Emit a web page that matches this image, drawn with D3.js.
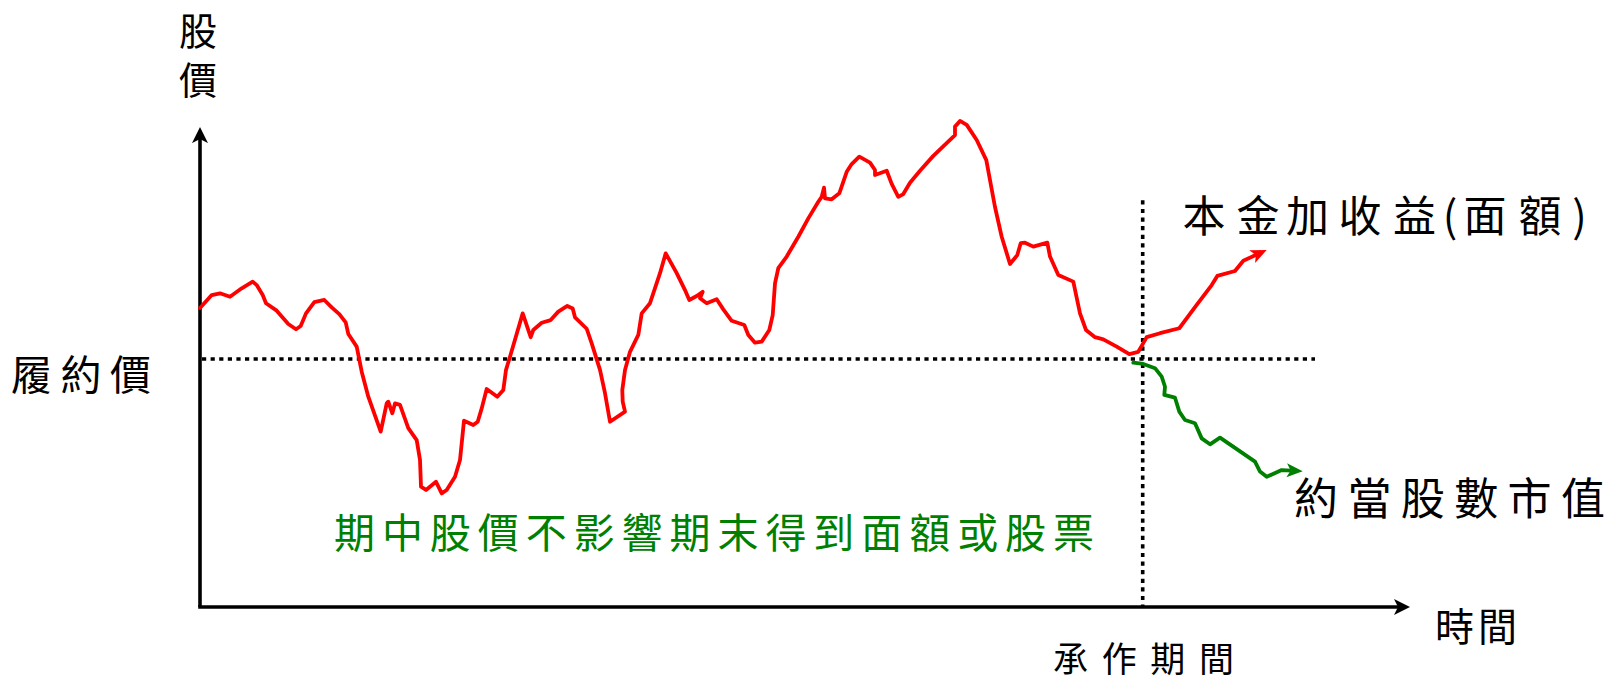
<!DOCTYPE html>
<html>
<head>
<meta charset="utf-8">
<script src="https://cdn.jsdelivr.net/npm/d3@7"></script>
<style>
  html, body { margin: 0; padding: 0; background: #fff; }
  svg { display: block; }
  text { font-family: "Noto Sans CJK TC", "Noto Sans CJK SC", sans-serif; }
</style>
</head>
<body>
<svg id="chart" width="1610" height="682"></svg>
<script>
// ---------------- data ----------------
// time (arbitrary units) and stock price (strike = 100)
const redTime = [0, 1.17, 2.0, 3.0, 4.17, 5.27, 5.67, 6.27, 6.6, 7.67, 8.83, 9.6, 10.07, 10.6, 11.43, 12.43, 13.17, 13.93, 14.57, 14.83,
  15.67, 16.17, 16.83, 18.07, 18.67, 18.83, 19.23, 19.5, 20.0, 20.83, 21.67, 22.0, 22.1, 22.6, 23.6, 24.17, 24.67, 25.5, 26.0, 26.4,
  27.33, 27.77, 28.17, 28.67, 29.73, 30.33, 30.6, 31.0, 32.27, 33.07, 33.33, 34.17, 35.07, 35.83, 36.73, 37.27, 37.5, 38.67, 39.17, 40.0,
  40.5, 41.0, 42.5, 42.27, 42.23, 42.5, 43.0, 43.83, 44.17, 45.0, 46.0, 46.57, 47.67, 48.5, 48.93, 49.67, 50.27, 50.0, 50.67, 51.67,
  52.33, 53.17, 54.43, 54.83, 55.5, 56.17, 56.93, 57.27, 57.5, 57.83, 58.67, 59.83, 60.83, 61.83, 62.17, 62.4, 62.5, 63.17, 63.93, 64.67,
  65.17, 65.93, 67.0, 67.5, 67.5, 68.67, 69.17, 69.83, 70.33, 71.0, 72.0, 73.33, 75.5, 75.5, 76.0, 76.67, 77.67, 78.63, 79.5, 80.17,
  81.0, 81.73, 82.07, 82.5, 83.33, 84.73, 85.0, 85.83, 87.33, 88.0, 88.6, 89.5, 90.33, 91.67, 92.93, 93.83, 94.27, 94.67, 96.0, 97.93,
  99.67, 101.17, 101.73, 103.5, 104.33, 105.67];
const redPrice = [120.6, 125.8, 126.5, 125.1, 128.5, 131.2, 129.8, 125.8, 122.5, 119.5, 114.1, 112.0, 113.3, 118.4, 122.9, 123.8, 120.8, 118.1, 114.8, 110.1,
  105.0, 94.9, 84.8, 70.7, 82.1, 82.8, 78.1, 82.1, 81.5, 72.1, 67.3, 59.3, 48.5, 47.2, 50.5, 45.8, 47.2, 52.5, 59.3, 75.1,
  73.4, 74.7, 80.1, 87.9, 84.8, 87.5, 95.6, 100.9, 118.4, 108.8, 111.7, 114.6, 115.7, 119.1, 121.4, 120.4, 116.8, 112.2, 106.3, 95.6,
  86.2, 74.7, 78.8, 82.8, 87.5, 95.6, 102.9, 109.7, 118.4, 122.5, 134.6, 142.6, 134.6, 127.8, 123.8, 125.4, 127.1, 124.5, 122.5, 124.1,
  120.0, 115.4, 113.7, 109.7, 106.6, 107.0, 111.7, 117.7, 130.5, 136.6, 141.3, 149.3, 156.7, 163.4, 165.4, 169.1, 164.8, 164.4, 166.8, 175.5,
  178.6, 181.6, 179.2, 176.2, 174.2, 175.9, 170.6, 165.4, 166.5, 171.1, 175.9, 181.9, 190.3, 193.7, 196.0, 194.4, 188.3, 180.2, 161.3, 149.3,
  138.3, 141.9, 146.7, 146.9, 145.3, 146.9, 141.3, 133.9, 131.2, 118.4, 111.7, 108.8, 107.9, 105.0, 102.0, 102.9, 106.0, 108.8, 110.4, 112.4,
  121.8, 129.8, 133.5, 135.5, 139.6, 142.1];
const greenTime = [93.33, 94.33, 95.5, 96.17, 96.5, 96.43, 97.5, 97.93, 98.5, 99.5, 100.17, 101.0, 102.0, 105.5, 106.0, 106.67, 108.17, 109.17];
const greenPrice = [98.5, 98.0, 96.3, 92.9, 88.8, 85.5, 84.4, 78.8, 75.4, 74.1, 68.0, 65.6, 68.3, 58.6, 54.6, 52.5, 55.2, 55.0];

const strikePrice = 100;
const maturityTime = 94.27;
const strikeLineEnd = 111.5;   // time where the strike dotted line stops
const maturityLineTop = 164;   // price where the maturity dotted line starts
const timeMax = 121;
const priceMax = 193.5;

const yAxisLabel = "股價";
const strikeLabel = "履約價";
const xAxisLabel = "時間";
const periodLabel = "承作期間";
const upLabel = ["本", "金", "加", "收", "益", "(", "面", "額", ")"];
const downLabel = "約當股數市值";
const noteLabel = "期中股價不影響期末得到面額或股票";

// ---------------- chart ----------------
const RED = "#ff0000", GREEN = "#008000";
const svg = d3.select("#chart");
const x = d3.scaleLinear().domain([0, timeMax]).range([200, 1410]);
const y = d3.scaleLinear().domain([0, 200]).range([607, 111]);

const defs = svg.append("defs");
function marker(id, color, len, half, notch, refX) {
  defs.append("marker")
    .attr("id", id)
    .attr("markerUnits", "userSpaceOnUse")
    .attr("viewBox", `0 ${-half - 1} ${len + 1} ${2 * half + 2}`)
    .attr("markerWidth", len + 1)
    .attr("markerHeight", 2 * half + 2)
    .attr("refX", refX).attr("refY", 0)
    .attr("orient", "auto")
    .append("path")
    .attr("d", `M0,${-half}L${len},0L0,${half}L${notch},0Z`)
    .attr("fill", color);
}
marker("axisArrow", "#000", 16, 8, 4, 4);
marker("redArrow", RED, 16, 7, 4, 5);
marker("greenArrow", GREEN, 16, 7, 4, 5);

// dotted reference lines
const dotStyle = sel => sel.attr("stroke", "#000").attr("stroke-width", 3.6).attr("stroke-dasharray", "4.2,4.4").attr("fill", "none");
svg.append("line")
  .attr("x1", x(0) + 2).attr("x2", x(strikeLineEnd))
  .attr("y1", y(strikePrice)).attr("y2", y(strikePrice))
  .call(dotStyle);
svg.append("line")
  .attr("x1", x(maturityTime)).attr("x2", x(maturityTime))
  .attr("y1", y(maturityLineTop)).attr("y2", y(0))
  .call(dotStyle);

// axes
svg.append("line")
  .attr("x1", x(0)).attr("y1", y(0)).attr("x2", x(0)).attr("y2", y(priceMax) + 12)
  .attr("stroke", "#000").attr("stroke-width", 3.6)
  .attr("marker-end", "url(#axisArrow)");
svg.append("line")
  .attr("x1", x(0) - 1.8).attr("y1", y(0)).attr("x2", x(timeMax) - 12).attr("y2", y(0))
  .attr("stroke", "#000").attr("stroke-width", 3.6)
  .attr("marker-end", "url(#axisArrow)");

// series
const line = d3.line().x(d => x(d[0])).y(d => y(d[1]));
svg.append("path")
  .datum(d3.zip(redTime, redPrice))
  .attr("d", line)
  .attr("fill", "none").attr("stroke", RED).attr("stroke-width", 3.8)
  .attr("stroke-linejoin", "round").attr("stroke-linecap", "round")
  .attr("marker-end", "url(#redArrow)");
svg.append("path")
  .datum(d3.zip(greenTime, greenPrice))
  .attr("d", line)
  .attr("fill", "none").attr("stroke", GREEN).attr("stroke-width", 3.8)
  .attr("stroke-linejoin", "round").attr("stroke-linecap", "round")
  .attr("marker-end", "url(#greenArrow)");

// labels
function label(txt, px, py, size, color, width) {
  const t = svg.append("text")
    .attr("x", px).attr("y", py)
    .attr("dominant-baseline", "central")
    .attr("font-size", size)
    .attr("fill", color)
    .text(txt);
  if (width) t.attr("textLength", width).attr("lengthAdjust", "spacing");
  return t;
}
// vertical y-axis title (single text in vertical writing mode)
svg.append("text")
  .attr("x", 198).attr("y", 12)
  .attr("writing-mode", "tb")
  .style("writing-mode", "vertical-rl")
  .style("text-orientation", "upright")
  .attr("font-size", 38)
  .attr("letter-spacing", 11)
  .attr("fill", "#000")
  .text(yAxisLabel);
label(strikeLabel, 11, 372, 41, "#000", 140);
label(noteLabel, 334, 530, 41, GREEN, 760);
// upper outcome label: glyph centres follow the reference's spacing (tight parentheses)
const upCenters = [1204, 1258, 1307.5, 1360, 1414.5, 1450, 1485, 1540, 1579.5];
const ut = svg.append("text")
  .attr("font-size", 43).attr("fill", "#000")
  .attr("text-anchor", "middle").attr("dominant-baseline", "central")
  .attr("y", 213);
upLabel.forEach((c, i) => ut.append("tspan").attr("x", upCenters[i]).text(c));
label(downLabel, 1294, 496, 44, "#000", 311);
label(xAxisLabel, 1435, 624, 39, "#000", 82);
label(periodLabel, 1053, 656, 35, "#000", 181);
</script>
</body>
</html>
